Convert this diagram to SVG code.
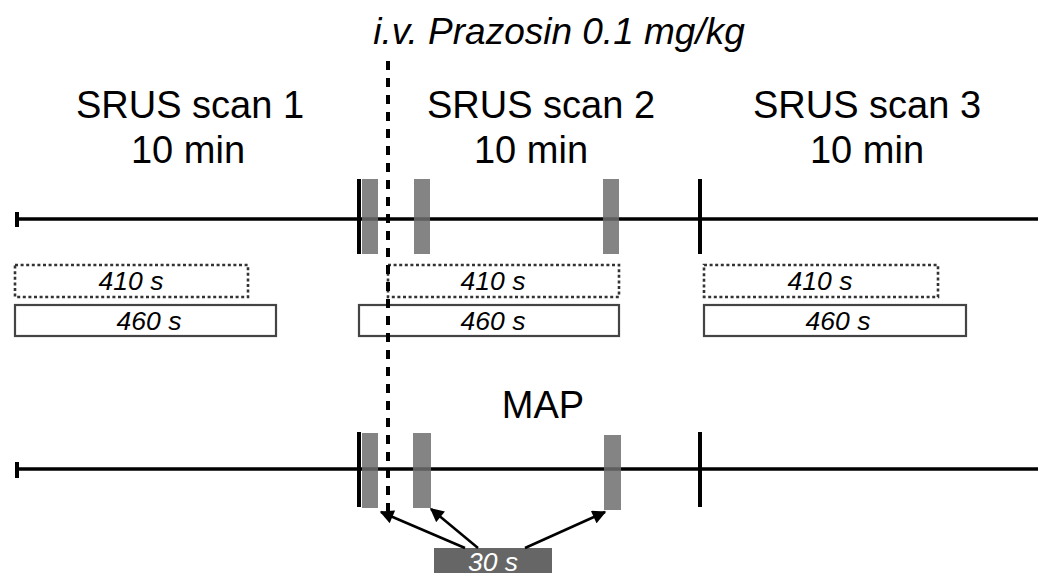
<svg xmlns="http://www.w3.org/2000/svg" width="1038" height="573" viewBox="0 0 1038 573">
<style>
text{font-family:"Liberation Sans",Arial,sans-serif;fill:#000}
.big{font-size:38px;text-anchor:middle}
.it{font-style:italic}
.lbl{font-size:26.5px;font-style:italic;text-anchor:middle}
.axis{stroke:#000;stroke-width:3.5;fill:none}
.tick{stroke:#000;stroke-width:4;fill:none}
.mark{fill:#6e6e6e;opacity:0.85}
.dot{fill:#fff;stroke:#333;stroke-width:2.6;stroke-dasharray:3 2.6}
.solid{fill:#fff;stroke:#444;stroke-width:2.2}
.arr{stroke:#000;stroke-width:2.5;fill:none;marker-end:url(#ah)}
</style>
<defs>
<marker id="ah" viewBox="0 0 10 10" refX="9" refY="5" markerWidth="6" markerHeight="5.5" orient="auto" markerUnits="strokeWidth">
<path d="M0,0 L10,5 L0,10 z" fill="#000"/>
</marker>
</defs>
<rect width="1038" height="573" fill="#fff"/>

<g id="title"><text x="559" y="44" font-size="37" class="it" text-anchor="middle">i.v. Prazosin 0.1 mg/kg</text></g>

<g id="scan1-label"><text class="big" x="190" y="118">SRUS scan 1</text><text class="big" x="188" y="163">10 min</text></g>
<g id="scan2-label"><text class="big" x="541" y="118">SRUS scan 2</text><text class="big" x="531" y="163">10 min</text></g>
<g id="scan3-label"><text class="big" x="867" y="118">SRUS scan 3</text><text class="big" x="867" y="163">10 min</text></g>

<g id="timeline-top">
<line class="axis" x1="17" y1="219" x2="1038" y2="219"/>
<line class="tick" x1="17" y1="212" x2="17" y2="227"/>
<line class="tick" x1="359" y1="179" x2="359" y2="254"/>
<line class="tick" x1="700" y1="179" x2="700" y2="254"/>
<rect class="mark" x="362" y="179" width="16" height="75"/>
<rect class="mark" x="414" y="179" width="16" height="75"/>
<rect class="mark" x="603" y="179" width="16" height="75"/>
</g>

<g id="box-410-1"><rect class="dot" x="15" y="265" width="233" height="32"/><text class="lbl" x="131" y="290">410 s</text></g>
<g id="box-460-1"><rect class="solid" x="15" y="305" width="261" height="31"/><text class="lbl" x="149" y="330">460 s</text></g>
<g id="box-410-2"><rect class="dot" x="388" y="265" width="231" height="32"/><text class="lbl" x="493" y="290">410 s</text></g>
<g id="box-460-2"><rect class="solid" x="359" y="305" width="260" height="31"/><text class="lbl" x="493" y="330">460 s</text></g>
<g id="box-410-3"><rect class="dot" x="704" y="265" width="234" height="32"/><text class="lbl" x="820" y="290">410 s</text></g>
<g id="box-460-3"><rect class="solid" x="704" y="305" width="262" height="31"/><text class="lbl" x="838" y="330">460 s</text></g>

<g id="map-label"><text class="big" x="543" y="418">MAP</text></g>

<g id="timeline-bottom">
<line class="axis" x1="17" y1="469" x2="1038" y2="469"/>
<line class="tick" x1="17" y1="462" x2="17" y2="478"/>
<line class="tick" x1="359" y1="432" x2="359" y2="507"/>
<line class="tick" x1="700" y1="432" x2="700" y2="507"/>
<rect class="mark" x="362" y="433" width="16" height="75"/>
<rect class="mark" x="413" y="433" width="18" height="75"/>
<rect class="mark" x="604" y="435" width="17" height="75"/>
</g>

<g id="injection-line">
<line x1="388" y1="61" x2="388" y2="511" stroke="#000" stroke-width="4" stroke-dasharray="9 8"/>
</g>

<g id="box-30"><rect x="434" y="548" width="118" height="30" fill="#666"/><text class="lbl" x="493" y="571" style="fill:#fff">30 s</text></g>

<g id="connectors">
<line class="arr" x1="465" y1="548" x2="381" y2="512"/>
<line class="arr" x1="478" y1="548" x2="431" y2="509"/>
<line class="arr" x1="525" y1="548" x2="605" y2="512"/>
</g>
</svg>
